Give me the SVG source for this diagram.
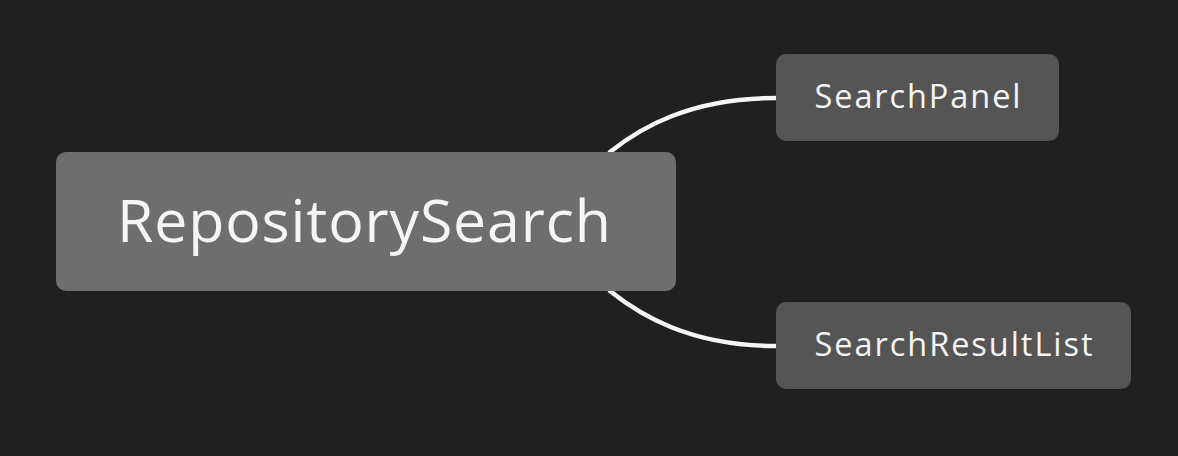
<svg xmlns="http://www.w3.org/2000/svg" width="1178" height="456" viewBox="0 0 1178 456">
<style>
.bg{fill:#202020}
.root{fill:#6e6e6e}
.child{fill:#555555}
.t{font-family:"Open Sans","Noto Sans","Liberation Sans",sans-serif;fill:#f5f5f5;text-anchor:middle}
.edge{fill:none;stroke:#f5f5f5;stroke-width:4.5;stroke-linecap:round}
</style>
<rect class="bg" x="0" y="0" width="1178" height="456"/>
<g id="connectors">
<path class="edge" d="M610 152 C640 128 690 98 776 98"/>
<path class="edge" d="M610 291 C640 315 690 346 776 346"/>
</g>
<g id="node-root">
<rect class="root" x="56" y="152" width="620" height="139" rx="10"/>
<text class="t" x="364" y="242" font-size="59" textLength="494" lengthAdjust="spacing">RepositorySearch</text>
</g>
<g id="node-searchpanel">
<rect class="child" x="776" y="54" width="283" height="87" rx="10"/>
<text class="t" x="917.5" y="107.5" font-size="32.5" textLength="206" lengthAdjust="spacing">SearchPanel</text>
</g>
<g id="node-searchresultlist">
<rect class="child" x="776" y="302" width="355" height="87" rx="10"/>
<text class="t" x="953.5" y="355.5" font-size="32.5" textLength="278" lengthAdjust="spacing">SearchResultList</text>
</g>
</svg>
